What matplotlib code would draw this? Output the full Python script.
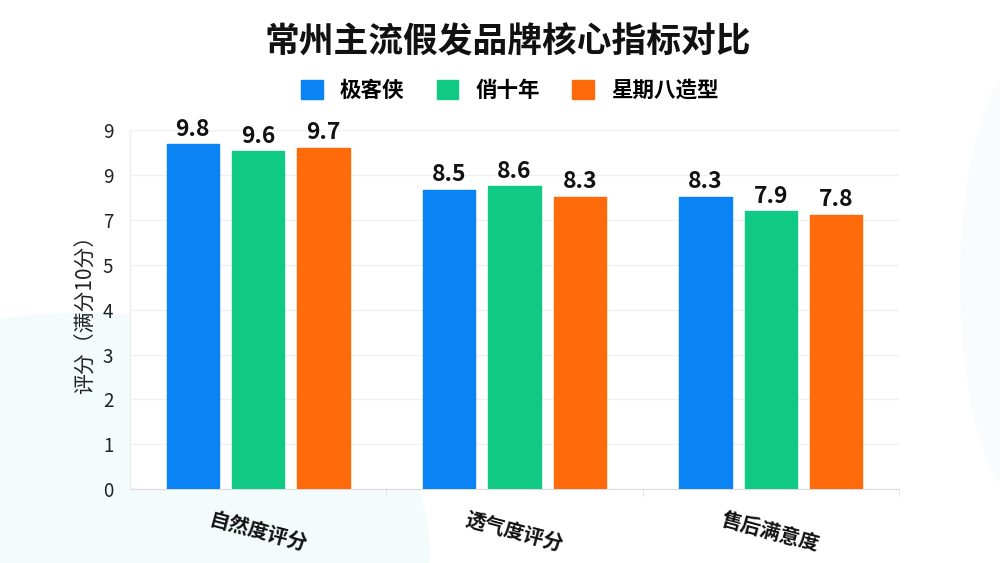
import numpy as np
import matplotlib
matplotlib.use('Agg')
import matplotlib.pyplot as plt
from matplotlib.patches import Ellipse

plt.rcParams['font.family'] = ['Noto Sans CJK SC', 'DejaVu Sans']

# Data
categories = ['自然度评分', '透气度评分', '售后满意度']
brands = ['极客侠', '俏十年', '星期八造型']
scores = {
    '极客侠': [9.8, 8.5, 8.3],
    '俏十年': [9.6, 8.6, 7.9],
    '星期八造型': [9.7, 8.3, 7.8],
}
ytick_labels = ['0', '1', '2', '3', '4', '5', '7', '9', '9']
colors = ['#0A84F5', '#10C985', '#FF6A0A']

fig = plt.figure(figsize=(10, 5.63), dpi=100)
fig.patch.set_facecolor('white')

# faint background wash
bg = fig.add_axes([0, 0, 1, 1], zorder=-5)
bg.set_xlim(0, 1)
bg.set_ylim(0, 1)
bg.axis('off')
bg.add_patch(Ellipse((0.08, 0.02), 0.7, 0.85, color='#f4fbfc', lw=0))
bg.add_patch(Ellipse((1.03, 0.5), 0.14, 0.8, color='#f8fcfd', lw=0))

ax = fig.add_axes([0.130, 0.131, 0.769, 0.638])
ax.set_facecolor('white')

x = np.arange(len(categories))
width = 0.205
step = 0.255
for i, b in enumerate(brands):
    pos = x + (i - 1) * step
    bars = ax.bar(pos, scores[b], width, color=colors[i], edgecolor=colors[i],
                  linewidth=1, joinstyle='round', zorder=3, label=b)
    for rect, v in zip(bars, scores[b]):
        ax.text(rect.get_x() + rect.get_width() / 2, v + 0.1, f'{v}',
                ha='center', va='bottom', fontsize=16.5, fontweight='bold',
                color='#111111', zorder=4)

ymax = 10.2
ax.set_ylim(0, ymax)
ax.set_xlim(-0.5, 2.5)
ax.set_yticks(np.linspace(0, ymax, len(ytick_labels)))
ax.set_yticklabels(ytick_labels, fontsize=13.5, color='#222222')
ax.yaxis.grid(True, color='#f0f0f0', linewidth=1, zorder=0)
ax.tick_params(axis='y', length=0, pad=12)

ax.set_xticks(x)
ax.set_xticklabels(categories, fontsize=14.5, fontweight='bold', rotation=-15,
                   ha='center', color='#111111')
ax.tick_params(axis='x', length=0, pad=14)
ax.set_xticks([0.5, 1.5, 2.5], minor=True)
ax.tick_params(axis='x', which='minor', length=5, color='#e0e0e0')

for s in ['top', 'right']:
    ax.spines[s].set_visible(False)
ax.spines['left'].set_color('#ececec')
ax.spines['bottom'].set_color('#dcdcdc')

ax.set_ylabel('评分（满分10分）', fontsize=15, color='#222222', labelpad=4)

fig.text(0.508, 0.925, '常州主流假发品牌核心指标对比', ha='center', va='center',
         fontsize=25, fontweight='bold', color='#111111')

fig.legend(loc='center', bbox_to_anchor=(0.51, 0.84), ncol=3, frameon=False,
           prop={'weight': 'bold', 'size': 15.5},
           handlelength=1.0, handleheight=1.0, columnspacing=1.5, handletextpad=0.8)

fig.savefig('out.png', dpi=100, facecolor='white')
